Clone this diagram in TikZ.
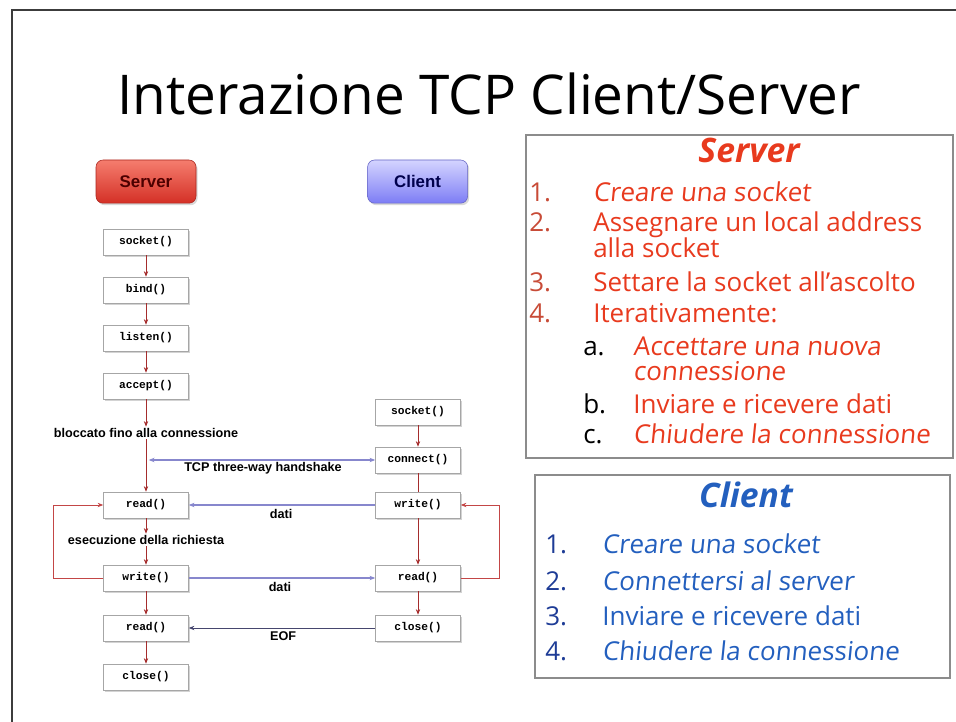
\documentclass[tikz,border=0pt]{standalone}
\usepackage{fontspec}
\setmainfont{Open Sans}
\newfontfamily\slantfont[FakeSlant=0.1]{Open Sans}
\newfontfamily\labelfont{Liberation Sans}
\newfontfamily\codefont{Liberation Mono}
\usetikzlibrary{arrows.meta, shadows}
\definecolor{srvtop}{RGB}{245,125,110}
\definecolor{srvbot}{RGB}{212,48,38}
\definecolor{clitop}{RGB}{212,212,255}
\definecolor{clibot}{RGB}{125,125,245}
\definecolor{linkred}{RGB}{165,45,45}
\definecolor{loopred}{RGB}{195,70,70}
\definecolor{msgblue}{RGB}{135,135,205}
\definecolor{eofblue}{RGB}{70,70,110}
\definecolor{txtred}{RGB}{232,58,30}
\definecolor{numred}{RGB}{200,75,55}
\definecolor{txtblue}{RGB}{35,95,190}
\definecolor{numblue}{RGB}{30,60,150}
\definecolor{panelgray}{RGB}{140,140,140}
\definecolor{framegray}{RGB}{60,60,60}

\begin{document}
\begin{tikzpicture}[
    callbox/.style={rectangle, draw=black!35, fill=white, minimum width=2.125cm,
      minimum height=0.65cm, inner sep=1pt, font=\codefont\bfseries\fontsize{8}{9}\selectfont,
      drop shadow={opacity=0.35, shadow xshift=0.03cm, shadow yshift=-0.04cm}},
    headbox/.style={rectangle, rounded corners=5pt, minimum width=2.5cm, minimum height=1.08cm,
      font=\labelfont\bfseries\fontsize{12}{14}\selectfont,
      drop shadow={opacity=0.3, shadow xshift=0.04cm, shadow yshift=-0.05cm}},
    steplabel/.style={font=\labelfont\bfseries\fontsize{9}{11}\selectfont, inner sep=1pt},
    arrow/.style={-{Stealth[length=1.4mm, width=1.1mm]}, line width=0.5pt, linkred},
    loop/.style={-{Stealth[length=1.4mm, width=1.1mm]}, line width=0.6pt, loopred},
    msg/.style={-{Stealth[length=1.4mm, width=1.1mm]}, line width=0.9pt, msgblue},
    listitem/.style={anchor=base west, inner sep=0pt, font=\fontsize{18.5}{22}\selectfont},
    listit/.style={listitem, font=\slantfont\fontsize{18.5}{22}\selectfont}]
    \useasboundingbox (0,0) rectangle (23.9,-18.05);
    \draw[framegray, line width=1.5pt] (0.3,-18.05) -- (0.3,-0.25) -- (23.9,-0.25);

    \node[anchor=base, font=\fontsize{39}{46}\selectfont] (title) at (12.225,-2.875)
      {Interazione TCP Client/Server};

    % flow of calls
    \node[headbox, top color=srvtop, bottom color=srvbot, draw=srvbot!80!black,
      text=red!30!black] (shead) at (3.65,-4.54) {Server};
    \node[headbox, top color=clitop, bottom color=clibot, draw=clibot!80!black,
      text=blue!30!black] (chead) at (10.44,-4.54) {Client};

    \node[callbox] (ssock) at (3.65,-6.05) {socket()};
    \node[callbox] (sbind) at (3.65,-7.25) {bind()};
    \node[callbox] (slisten) at (3.65,-8.45) {listen()};
    \node[callbox] (saccept) at (3.65,-9.65) {accept()};
    \node[steplabel] (blocked) at (3.65,-10.825) {bloccato fino alla connessione};
    \node[callbox] (sread) at (3.65,-12.625) {read()};
    \node[steplabel] (exec) at (3.65,-13.5) {esecuzione della richiesta};
    \node[callbox] (swrite) at (3.65,-14.45) {write()};
    \node[callbox] (sreof) at (3.65,-15.7) {read()};
    \node[callbox] (sclose) at (3.65,-16.925) {close()};

    \node[callbox] (csock) at (10.45,-10.3) {socket()};
    \node[callbox] (cconn) at (10.45,-11.5) {connect()};
    \node[callbox] (cwrite) at (10.45,-12.625) {write()};
    \node[callbox] (cread) at (10.45,-14.45) {read()};
    \node[callbox] (cclose) at (10.45,-15.7) {close()};

    \draw[arrow] (ssock) -- (sbind);
    \draw[arrow] (sbind) -- (slisten);
    \draw[arrow] (slisten) -- (saccept);
    \draw[arrow] (saccept) -- (blocked);
    \draw[arrow] (blocked) -- (sread);
    \draw[arrow] (sread) -- (exec);
    \draw[arrow] (exec) -- (swrite);
    \draw[arrow] (swrite) -- (sreof);
    \draw[arrow] (sreof) -- (sclose);
    \draw[loop] (swrite.west) -- ++(-1.25,0) |- (sread.west);

    \draw[arrow] (csock) -- (cconn);
    \draw[linkred, line width=0.5pt] (cconn) -- (cwrite);
    \draw[arrow] (cwrite) -- (cread);
    \draw[arrow] (cread) -- (cclose);
    \draw[loop] (cread.east) -- ++(0.975,0) |- (cwrite.east);

    \draw[msg, {Stealth[length=1.4mm, width=1.1mm]}-{Stealth[length=1.4mm, width=1.1mm]}]
      ([xshift=2pt]sread.north |- cconn.west) -- (cconn.west);
    \node[steplabel] (hslbl) at (6.575,-11.7) {TCP three-way handshake};
    \draw[msg] (cwrite.west) -- (sread.east);
    \node[steplabel] (dati1) at (7.03,-12.85) {dati};
    \draw[msg] (swrite.east) -- (cread.west);
    \node[steplabel] (dati2) at (7.0,-14.675) {dati};
    \draw[msg, eofblue, line width=0.6pt] (cclose.west) -- (sreof.east);
    \node[steplabel] (eoflbl) at (7.08,-15.9) {EOF};

    % server steps
    \draw[panelgray, line width=1.5pt] (13.15,-3.375) rectangle (23.825,-11.45);
    \node[anchor=base, txtred, font=\bfseries\itshape\fontsize{24}{28}\selectfont]
      (srvhead) at (18.725,-4.075) {Server};
    \node[listitem, numred] (s1n) at (13.225,-5.05) {1.};
    \node[listit, txtred] (s1) at (14.825,-5.05) {Creare una socket};
    \node[listitem, numred] (s2n) at (13.225,-5.8) {2.};
    \node[listitem, txtred] (s2) at (14.825,-5.8) {Assegnare un local address};
    \node[listitem, txtred] (s2b) at (14.825,-6.45) {alla socket};
    \node[listitem, numred] (s3n) at (13.225,-7.3) {3.};
    \node[listitem, txtred] (s3) at (14.825,-7.3) {Settare la socket all’ascolto};
    \node[listitem, numred] (s4n) at (13.225,-8.05) {4.};
    \node[listitem, txtred] (s4) at (14.825,-8.05) {Iterativamente:};
    \node[listitem] (sAn) at (14.575,-8.875) {a.};
    \node[listit, txtred] (sA) at (15.825,-8.875) {Accettare una nuova};
    \node[listit, txtred] (sAb) at (15.825,-9.5) {connessione};
    \node[listitem] (sBn) at (14.575,-10.325) {b.};
    \node[listitem, txtred] (sB) at (15.825,-10.325) {Inviare e ricevere dati};
    \node[listitem] (sCn) at (14.575,-11.075) {c.};
    \node[listit, txtred] (sC) at (15.825,-11.075) {Chiudere la connessione};

    % client steps
    \draw[panelgray, line width=1.2pt] (13.375,-11.875) rectangle (23.75,-16.95);
    \node[anchor=base, txtblue, font=\bfseries\itshape\fontsize{24}{28}\selectfont]
      (clihead) at (18.65,-12.675) {Client};
    \node[listitem, numblue] (c1n) at (13.625,-13.825) {1.};
    \node[listit, txtblue] (c1) at (15.05,-13.825) {Creare una socket};
    \node[listitem, numblue] (c2n) at (13.625,-14.75) {2.};
    \node[listit, txtblue] (c2) at (15.05,-14.75) {Connettersi al server};
    \node[listitem, numblue] (c3n) at (13.625,-15.625) {3.};
    \node[listitem, txtblue] (c3) at (15.05,-15.625) {Inviare e ricevere dati};
    \node[listitem, numblue] (c4n) at (13.625,-16.5) {4.};
    \node[listit, txtblue] (c4) at (15.05,-16.5) {Chiudere la connessione};
  \end{tikzpicture}
\end{document}
